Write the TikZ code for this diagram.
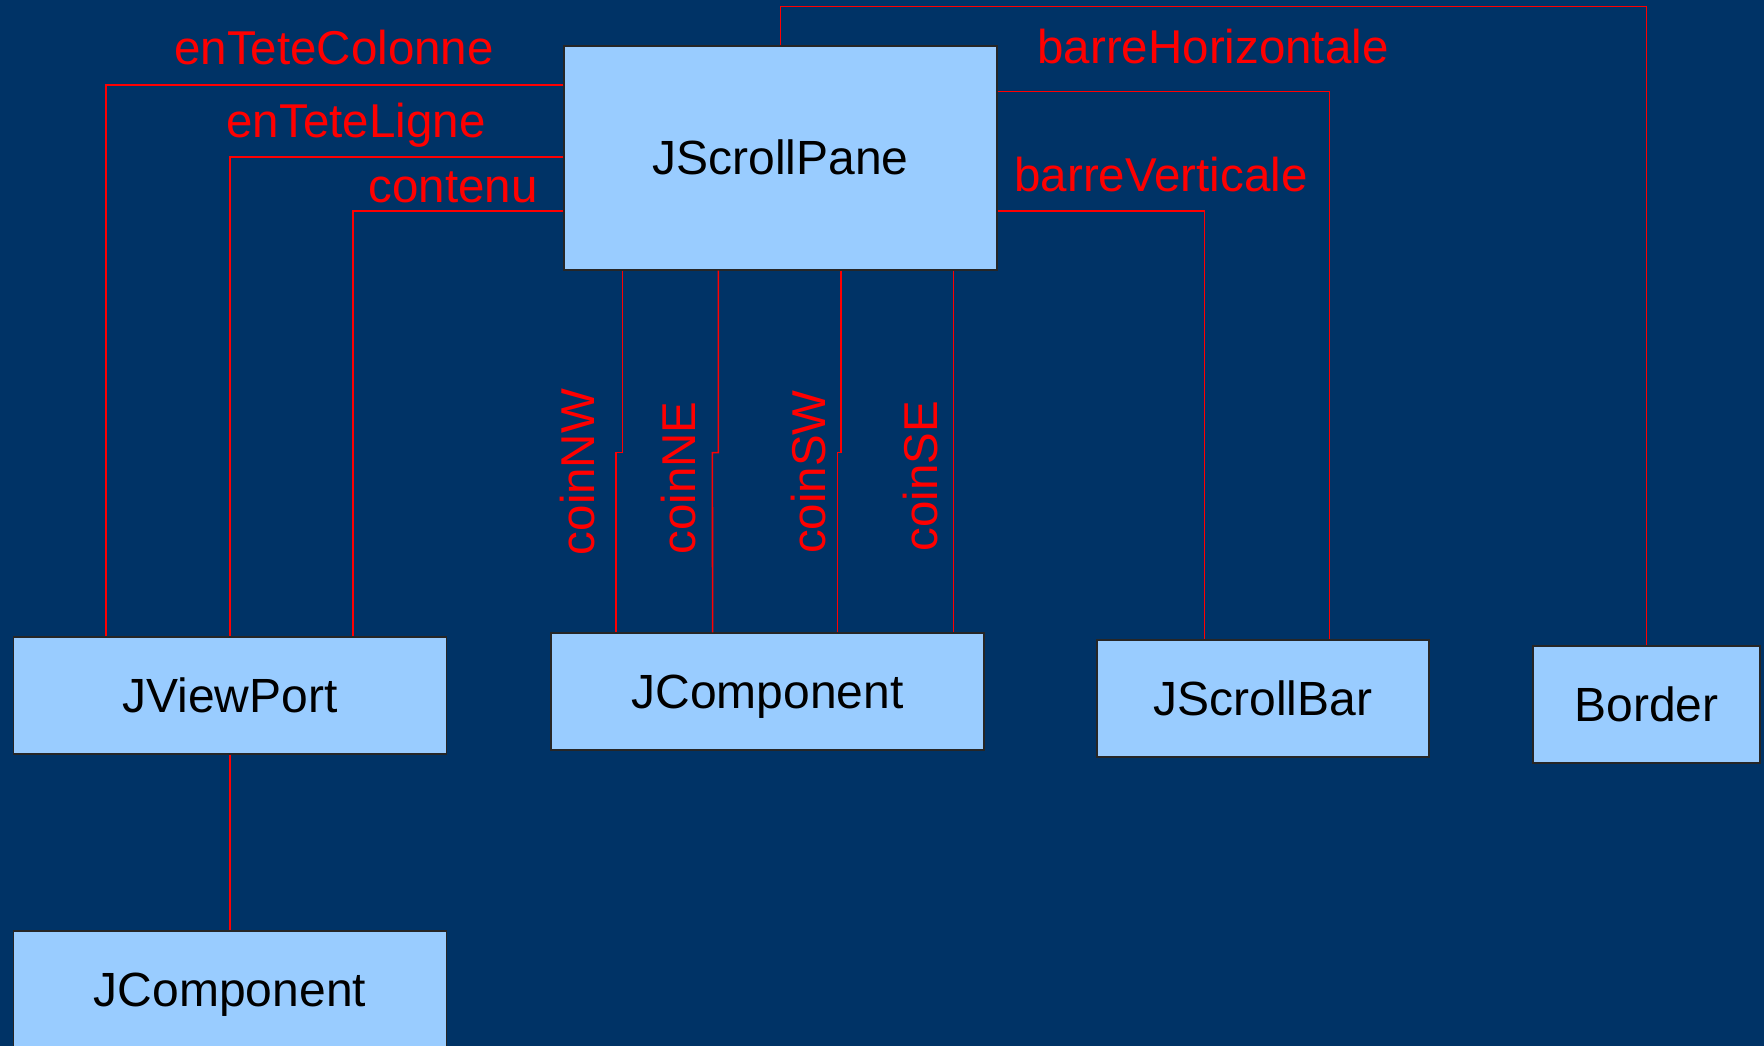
\documentclass[tikz,border=0pt]{standalone}
\usepackage{fontspec}
\setmainfont{Liberation Sans}
\usetikzlibrary{calc}
\definecolor{navy}{HTML}{003366}
\definecolor{boxfill}{HTML}{99CCFF}
\definecolor{lred}{HTML}{FF0000}
\tikzset{
  cls/.style={draw=black!85, line width=1.3pt, fill=boxfill, inner sep=0pt,
    font=\fontsize{48}{56}\selectfont, text=black, text height=34pt, text depth=0pt},
  conn/.style={draw=lred, line width=1.6pt},
  rolelbl/.style={text=lred, inner sep=0pt, font=\fontsize{47.5}{56}\selectfont},
}
\begin{document}
\begin{tikzpicture}[x=1pt,y=-1pt]
\fill[navy] (0,0) rectangle (1764,1046);
\useasboundingbox (0,0) rectangle (1764,1046);
\clip (0,0) rectangle (1764,1046);

\node[cls, minimum width=433pt, minimum height=224pt] (sp) at (780.5,158) {JScrollPane};
\node[cls, minimum width=433.5pt, minimum height=117pt] (vp) at (230,695.5) {JViewPort};
\node[cls, minimum width=433pt, minimum height=117pt] (cm) at (767.5,691.5) {JComponent};
\node[cls, minimum width=332pt, minimum height=117pt] (sb) at (1263,698.5) {JScrollBar};
\node[cls, minimum width=227pt, minimum height=117pt] (bd) at (1646.5,704.5) {Border};
\node[cls, minimum width=433.5pt, minimum height=117pt] (cm2) at (230,989.5) {JComponent};

% connectors to JViewPort
\draw[conn] ($(sp.north west)+(0,39.5)$) -| ($(vp.north west)+(93.5,0)$);
\draw[conn] ($(sp.north west)+(0,111.5)$) -| (vp.north);
\draw[conn] ($(sp.north west)+(0,165.5)$) -| ($(vp.north west)+(340.5,0)$);

% corners
\draw[conn] ($(sp.south west)+(59,0)$) -- ++(0,182) -- ++(-6.5,0) -- ($(cm.north west)+(65.5,0)$);
\draw[conn] ($(sp.south west)+(155,0)$) -- ++(0,182) -- ++(-6,0) -- ($(cm.north west)+(162.3,0)$);
\draw[conn] ($(sp.south west)+(277.7,0)$) -- ++(0,182) -- ++(-3.4,0) -- ($(cm.north west)+(287.3,0)$);
\draw[conn] ($(sp.south west)+(390,0)$) -- ($(cm.north west)+(403,0)$);

% scroll bars
\draw[conn] ($(sp.north east)+(0,46)$) -| ($(sb.north west)+(233,0)$);
\draw[conn] ($(sp.north east)+(0,165.5)$) -| ($(sb.north west)+(108,0)$);

% border
\draw[conn] (sp.north) -- ++(0,-39) -| (bd.north);

% viewport content
\draw[conn] (vp.south) -- (cm2.north);

% labels
\node[rolelbl, anchor=base] (l1) at (334,65) {enTeteColonne};
\node[rolelbl, anchor=base] (l2) at (356,138) {enTeteLigne};
\node[rolelbl, anchor=base] (l3) at (453,202) {contenu};
\node[rolelbl, anchor=base] (l4) at (1213,64) {barreHorizontale};
\node[rolelbl, anchor=base] (l5) at (1161,191) {barreVerticale};
\node[rolelbl, anchor=base, rotate=90] (l6) at (594,472) {coinNW};
\node[rolelbl, anchor=base, rotate=90] (l7) at (695,478) {coinNE};
\node[rolelbl, anchor=base, rotate=90] (l8) at (825,472) {coinSW};
\node[rolelbl, anchor=base, rotate=90] (l9) at (937,476) {coinSE};
\end{tikzpicture}
\end{document}
